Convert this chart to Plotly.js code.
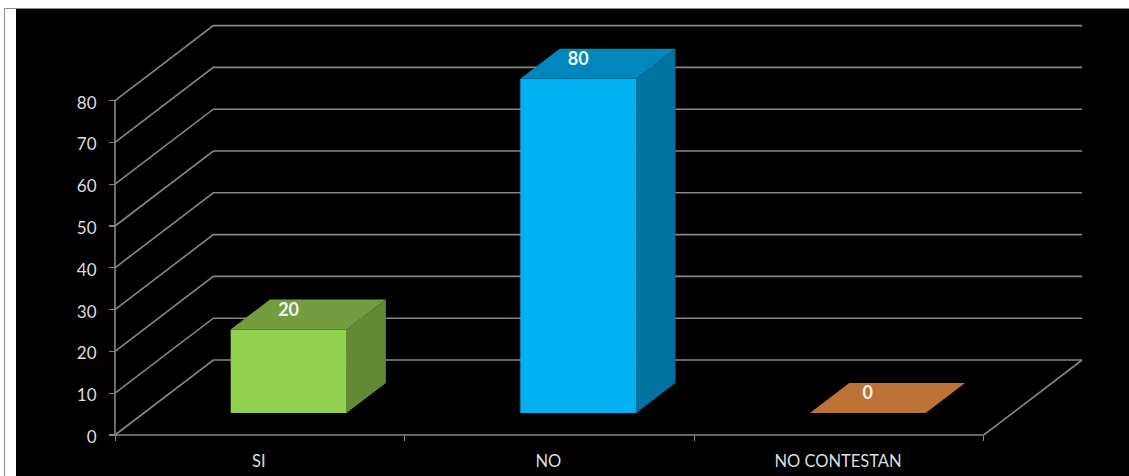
<!DOCTYPE html>
<html>
<head>
<meta charset="utf-8">
<script src="https://cdn.plot.ly/plotly-3.0.1.min.js"></script>
<style>html,body{margin:0;padding:0;background:#fff;overflow:hidden}</style>
</head>
<body>
<div id="chart" style="width:1129px;height:476px"></div>
<script>
// Survey answers
const categories = ['SI', 'NO', 'NO CONTESTAN'];
const answers = [20, 80, 0];
const gridValues = [0, 10, 20, 30, 40, 50, 60, 70, 80];

const frontColors = ['#92D050', '#00B0F0', '#C0504D'];
const topColors = ['#739E3F', '#0088BC', '#BC7335'];
const sideColors = ['#628A34', '#0073A0', '#BC7335'];

// Oblique projection: a point at depth d (0 front, 1 back) shifts right and up.
const depthX = 0.3395;
const depthY = 17.94;
const barWidth = 0.4;
const barNear = 0.293;
const barFar = 0.693;

const GRID = '#868686';
const TEXT = '#DEDEDE';
const FONT = 'Lato, Carlito, sans-serif';

const pxX = 289.6, pxY = 4.18;       // pixels per data unit
const plotW = 1113, plotH = 467;     // plot area size
const originX = 99, originY = 426;   // value (0,0) inside the plot area

const project = (x, v, d) => [x + depthX * d, v + depthY * d];

function polygon(points, color) {
  return {
    x: points.map(p => p[0]), y: points.map(p => p[1]),
    type: 'scatter', mode: 'lines', fill: 'toself', fillcolor: color,
    line: {width: 0}, hoverinfo: 'skip', showlegend: false
  };
}

function polyline(points) {
  return {
    x: points.map(p => p[0]), y: points.map(p => p[1]),
    type: 'scatter', mode: 'lines',
    line: {color: GRID, width: 1.6}, hoverinfo: 'skip', showlegend: false
  };
}

const traces = [];

// Gridlines run up the left wall and across the back wall
gridValues.forEach(v => {
  traces.push(polyline([project(0, v, 0), project(0, v, 1), project(3, v, 1)]));
});
// Axis frame and floor edge
traces.push(polyline([[0, 0], [0, 80]]));
traces.push(polyline([[0, 0], [3, 0], project(3, 0, 1)]));

// Boxes: side, then top, then front
answers.forEach((value, i) => {
  const l = i + 0.5 - barWidth / 2, r = i + 0.5 + barWidth / 2;
  traces.push(polygon([project(r, 0, barNear), project(r, 0, barFar),
    project(r, value, barFar), project(r, value, barNear)], sideColors[i]));
  if (value > 0) {
    traces.push(polygon([project(l, 0, barNear), project(r, 0, barNear),
      project(r, value, barNear), project(l, value, barNear)], frontColors[i]));
  }
  traces.push(polygon([project(l, value, barNear), project(r, value, barNear),
    project(r, value, barFar), project(l, value, barFar)], topColors[i]));
});

// Value labels on the top faces
traces.push({
  x: answers.map((_, i) => i + 0.5 + depthX * barNear),
  y: answers.map(v => v + depthY * 0.535),
  text: answers.map(String),
  type: 'scatter', mode: 'text', textposition: 'middle center',
  textfont: {family: FONT, size: 18, color: '#F4F4F0', weight: 700},
  hoverinfo: 'skip', showlegend: false
});

const layout = {
  width: 1129, height: 476,
  margin: {l: 16, r: 0, t: 9, b: 0, pad: 0},
  paper_bgcolor: '#FFFFFF', plot_bgcolor: '#000000',
  showlegend: false,
  font: {family: FONT, size: 17, color: TEXT},
  xaxis: {
    range: [-originX / pxX, (plotW - originX) / pxX],
    anchor: 'free', position: (plotH - originY) / plotH,
    tickmode: 'array', tickvals: [0.5, 1.5, 2.5], ticktext: categories,
    ticks: '', ticklabelstandoff: 14, ticklabelshift: -1,
    minor: {tickmode: 'array', tickvals: [0, 1, 2, 3], ticks: 'outside', ticklen: 5, tickwidth: 1, tickcolor: GRID, showgrid: false},
    showgrid: false, zeroline: false, showline: false,
    tickfont: {family: FONT, size: 16.5, color: TEXT}
  },
  yaxis: {
    range: [(originY - plotH) / pxY, originY / pxY],
    anchor: 'free', position: originX / plotW,
    tickmode: 'array', tickvals: gridValues,
    ticks: 'outside', ticklen: 6, tickwidth: 1.3, tickcolor: GRID,
    ticklabelstandoff: 9, ticklabelshift: 2,
    showgrid: false, zeroline: false, showline: false,
    tickfont: {family: FONT, size: 17, color: TEXT}
  },
  shapes: [
    // Thin grey edge at the top and left of the picture frame
    {type: 'line', xref: 'paper', yref: 'paper', x0: -11.5 / plotW, x1: 1, y0: 1 + 0.5 / plotH, y1: 1 + 0.5 / plotH, line: {color: '#8C8C8C', width: 1}},
    {type: 'line', xref: 'paper', yref: 'paper', x0: -11.5 / plotW, x1: -11.5 / plotW, y0: 0, y1: 1 + 0.5 / plotH, line: {color: '#8C8C8C', width: 1}}
  ]
};

Plotly.newPlot('chart', traces, layout, {displayModeBar: false, staticPlot: true});
</script>
</body>
</html>
